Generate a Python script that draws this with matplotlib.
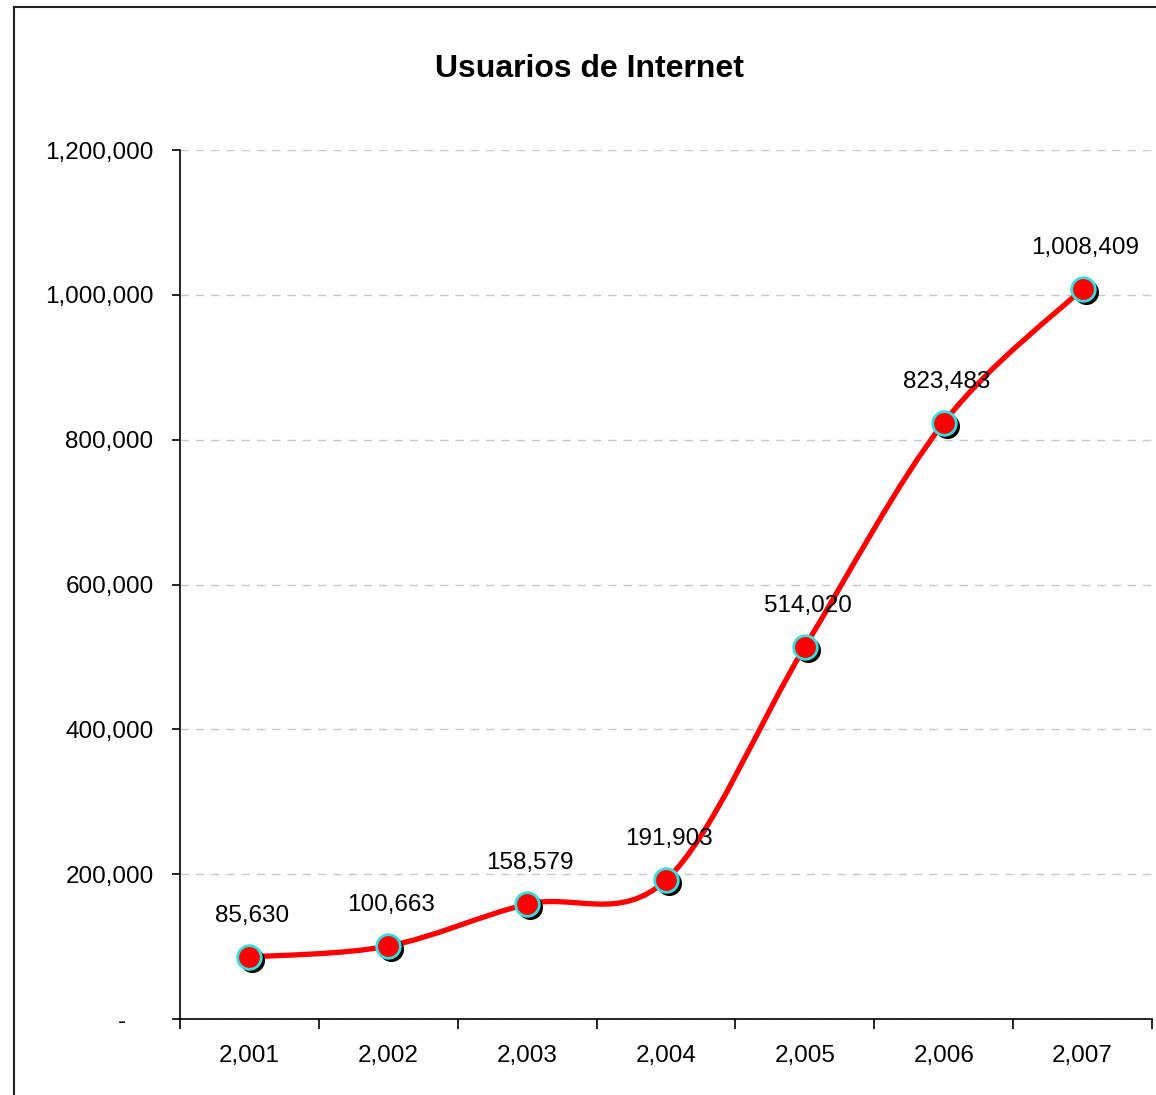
import matplotlib
matplotlib.use("Agg")
import matplotlib.pyplot as plt
import matplotlib.transforms as mtransforms
from matplotlib.path import Path
from matplotlib.patches import PathPatch
from matplotlib.lines import Line2D

plt.rcParams['font.family'] = ['Liberation Sans', 'DejaVu Sans']

years = ["2,001", "2,002", "2,003", "2,004", "2,005", "2,006", "2,007"]
users = [85630, 100663, 158579, 191903, 514020, 823483, 1008409]
labels = ["85,630", "100,663", "158,579", "191,903", "514,020", "823,483", "1,008,409"]
yticks = [0, 200000, 400000, 600000, 800000, 1000000, 1200000]
ytick_labels = ["-    ", "200,000", "400,000", "600,000", "800,000", "1,000,000", "1,200,000"]

fig = plt.figure(figsize=(11.56, 10.95), dpi=100)
ax = fig.add_axes([180 / 1156, 76 / 1095, 972 / 1156, 869 / 1095])

x = list(range(len(users)))

# smoothed line (bezier through the points, like excel "smoothed line")
verts = [(x[0], users[0])]
codes = [Path.MOVETO]
n = len(users)
for i in range(n - 1):
    p0 = (x[max(i - 1, 0)], users[max(i - 1, 0)])
    p1 = (x[i], users[i])
    p2 = (x[i + 1], users[i + 1])
    p3 = (x[min(i + 2, n - 1)], users[min(i + 2, n - 1)])
    c1 = (p1[0] + (p2[0] - p0[0]) / 6, p1[1] + (p2[1] - p0[1]) / 6)
    c2 = (p2[0] - (p3[0] - p1[0]) / 6, p2[1] - (p3[1] - p1[1]) / 6)
    verts += [c1, c2, p2]
    codes += [Path.CURVE4, Path.CURVE4, Path.CURVE4]
ax.add_patch(PathPatch(Path(verts, codes), facecolor="none", edgecolor="#ff0000",
                       lw=3.8, capstyle="round", joinstyle="round", zorder=3))

# marker shadow
shadow = mtransforms.offset_copy(ax.transData, fig=fig, x=3, y=-3, units="dots")
ax.plot(x, users, "o", ms=17, color="black", mec="black", transform=shadow, zorder=4)
ax.plot(x, users, "o", ms=17, color="#ff0000", mec="#33e0e0", mew=2, zorder=5)

for xi, v, lab in zip(x, users, labels):
    ax.annotate(lab, (xi, v), xytext=(3, 30), textcoords="offset pixels",
                ha="center", va="bottom", fontsize=17.5, zorder=6)

ax.set_xlim(-0.5, n - 0.5)
ax.set_ylim(0, 1200000)
ax.set_xticks([i - 0.5 for i in range(n + 1)])
ax.set_xticklabels([])
ax.set_xticks(x, minor=True)
ax.set_xticklabels(years, minor=True, fontsize=17.5)
ax.tick_params(axis="x", which="major", length=7, width=1.2, direction="out")
ax.tick_params(axis="x", which="minor", length=0, pad=18.5)
ax.set_yticks(yticks)
ax.set_yticklabels(ytick_labels, fontsize=17.5)
ax.tick_params(axis="y", length=6, width=1.2, direction="out", pad=13)

ax.yaxis.grid(True, color="#c8c8c8", linestyle=(0, (6, 5)), lw=1)
ax.set_axisbelow(True)
for s in ["top", "right"]:
    ax.spines[s].set_visible(False)
ax.spines["left"].set_linewidth(1.2)
ax.spines["bottom"].set_linewidth(1.2)

fig.text(589 / 1156, 1 - 69 / 1095, "Usuarios de Internet", ha="center", va="center",
         fontsize=23, fontweight="bold")

# outer chart frame
fig.add_artist(Line2D([14 / 1156, 14 / 1156], [0, 1 - 7 / 1095], color="#222222", lw=1.5))
fig.add_artist(Line2D([14 / 1156, 1], [1 - 7 / 1095, 1 - 7 / 1095], color="#222222", lw=1.5))

fig.savefig("out.png", dpi=100)
